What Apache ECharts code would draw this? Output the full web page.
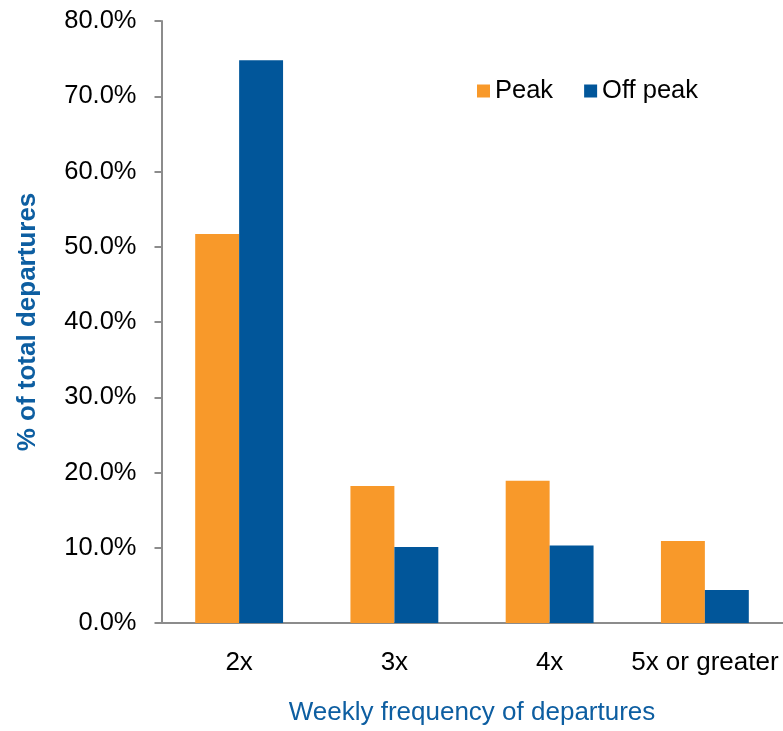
<!DOCTYPE html>
<html><head><meta charset="utf-8">
<script src="https://cdn.jsdelivr.net/npm/echarts@6/dist/echarts.min.js"></script>
<style>html,body{margin:0;padding:0;background:#fff}#c{width:783px;height:731px}</style>
</head><body><div id="c"></div>
<script>
const categories = ['2x', '3x', '4x', '5x or greater'];
const peak = [51.7, 18.2, 18.9, 10.9];
const offPeak = [74.8, 10.1, 10.3, 4.4];
const yTicks = [0, 10, 20, 30, 40, 50, 60, 70, 80];

const chart = echarts.init(document.getElementById('c'));
const font = '"Liberation Sans", Arial, sans-serif';
const axisGray = '#8c8c8c';
chart.setOption({
  animation: false,
  textStyle: { fontFamily: font },
  grid: { left: 161.5, right: 0.5, top: 21, bottom: 104.5, containLabel: false },
  legend: {
    top: 73, left: 472, itemWidth: 13, itemHeight: 13, itemGap: 31,
    icon: 'rect',
    textStyle: { fontSize: 25.5, color: '#000', fontFamily: font },
    data: ['Peak', 'Off peak']
  },
  xAxis: {
    type: 'category', data: categories,
    name: 'Weekly frequency of departures', nameLocation: 'middle', nameGap: 77,
    nameTextStyle: { fontSize: 26, color: '#0d5ea1', fontFamily: font },
    axisLine: { lineStyle: { color: axisGray, width: 2 } },
    axisTick: { length: 7, lineStyle: { color: axisGray, width: 2 } },
    axisLabel: { interval: 0, fontSize: 26, color: '#000', margin: 27, fontFamily: font }
  },
  yAxis: {
    type: 'value', min: yTicks[0], max: yTicks[yTicks.length - 1], interval: 10,
    name: '% of total departures', nameLocation: 'middle', nameGap: 121, nameRotate: 90,
    nameTextStyle: { fontSize: 26, color: '#0d5ea1', fontWeight: 'bold', fontFamily: font },
    axisLine: { show: true, lineStyle: { color: axisGray, width: 2 } },
    axisTick: { show: true, length: 7, lineStyle: { color: axisGray, width: 2 } },
    splitLine: { show: false },
    axisLabel: { fontSize: 25.5, color: '#000', margin: 25, fontFamily: font,
      formatter: v => v.toFixed(1) + '%' }
  },
  series: [
    { name: 'Peak', type: 'bar', data: peak, barWidth: '28.3%', barGap: '0%',
      itemStyle: { color: '#f8992a' } },
    { name: 'Off peak', type: 'bar', data: offPeak, barWidth: '28.3%', barGap: '0%',
      itemStyle: { color: '#01569a' } }
  ]
});
</script></body></html>
